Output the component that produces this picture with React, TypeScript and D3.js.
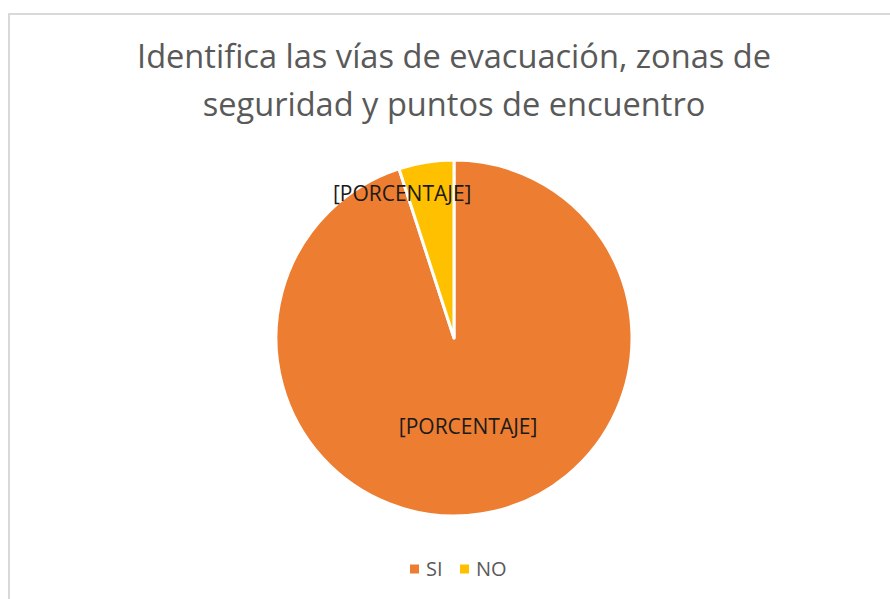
import React, { useEffect, useRef } from 'react';
import * as d3 from 'd3';

const categories = ['SI', 'NO'];
const values = [95, 5];
const labels = ['[PORCENTAJE]', '[PORCENTAJE]'];
const colors = ['#ED7D31', '#FFC000'];
const titleLines = ['Identifica las vías de evacuación, zonas de', 'seguridad y puntos de encuentro'];

const W = 890;
const H = 599;

function App() {
	const ref = useRef<SVGSVGElement | null>(null);

	useEffect(() => {
		const svg = d3.select(ref.current);
		svg.selectAll('*').remove();

		const font = "'Open Sans', sans-serif";

		// chart frame
		svg.append('rect')
			.attr('x', 9).attr('y', 14)
			.attr('width', W + 20).attr('height', H + 20)
			.attr('fill', '#fff')
			.attr('stroke', '#d9d9d9')
			.attr('stroke-width', 2);

		svg.append('g')
			.attr('font-family', font)
			.attr('font-size', 32.6)
			.attr('fill', '#595959')
			.attr('text-anchor', 'middle')
			.selectAll('text')
			.data(titleLines)
			.enter().append('text')
			.attr('x', 454)
			.attr('y', (d, i) => 68 + i * 48)
			.text(d => d);

		const cx = 454, cy = 338, r = 178;
		const pie = d3.pie<number>().sort(null).value(d => d);
		const arcs = pie(values);
		const arc = d3.arc<d3.PieArcDatum<number>>().innerRadius(0).outerRadius(r);

		const g = svg.append('g').attr('transform', `translate(${cx},${cy})`);
		g.selectAll('path')
			.data(arcs)
			.enter().append('path')
			.attr('d', arc)
			.attr('fill', (d, i) => colors[i])
			.attr('stroke', '#fff')
			.attr('stroke-width', 3)
			.attr('stroke-linejoin', 'round');

		// label radii (Excel best fit puts the small one near the edge)
		const labelR = [90, 146];
		const labelDx = [0, -29];
		g.selectAll('text.lbl')
			.data(arcs)
			.enter().append('text')
			.attr('class', 'lbl')
			.attr('transform', (d, i) => {
				const c = d3.arc<d3.PieArcDatum<number>>().innerRadius(labelR[i]).outerRadius(labelR[i]).centroid(d);
				return `translate(${c[0] + labelDx[i]},${c[1]})`;
			})
			.attr('text-anchor', 'middle')
			.attr('dy', '0.35em')
			.attr('font-family', font)
			.attr('font-size', 21)
			.attr('fill', '#1a1a1a')
			.text((d, i) => labels[i]);

		// legend
		const legend = svg.append('g')
			.attr('font-family', font)
			.attr('font-size', 20)
			.attr('fill', '#595959')
			.selectAll('g')
			.data(categories)
			.enter().append('g')
			.attr('transform', (d, i) => `translate(${410 + i * 50},569)`);

		legend.append('rect')
			.attr('x', 0).attr('y', -4.5)
			.attr('width', 9).attr('height', 9)
			.attr('fill', (d, i) => colors[i]);

		legend.append('text')
			.attr('x', 16)
			.attr('dy', '0.35em')
			.text(d => d);
	}, []);

	return (
		<svg ref={ref} width={W} height={H} style={{ position: 'absolute', left: 0, top: 0 }} />
	);
}

export default App;
